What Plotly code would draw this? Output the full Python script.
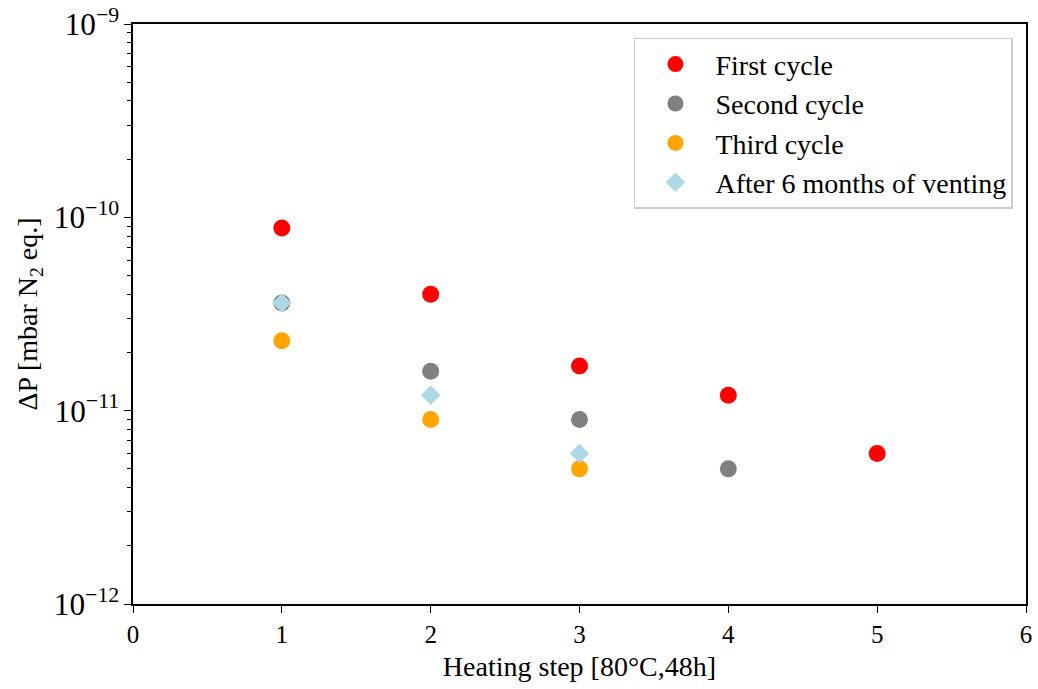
import plotly.graph_objects as go

steps_first = [1, 2, 3, 4, 5]
first_cycle = [8.8e-11, 4.0e-11, 1.7e-11, 1.2e-11, 6.0e-12]
steps_second = [1, 2, 3, 4]
second_cycle = [3.6e-11, 1.6e-11, 9.0e-12, 5.0e-12]
steps_third = [1, 2, 3]
third_cycle = [2.3e-11, 9.0e-12, 5.0e-12]
steps_after = [1, 2, 3]
after_venting = [3.6e-11, 1.2e-11, 6.0e-12]

FONT = "Liberation Serif"

fig = go.Figure()
fig.add_trace(go.Scatter(x=steps_first, y=first_cycle, mode="markers", name="First cycle",
                         legendgroup="a", marker=dict(color="red", size=17, symbol="circle")))
fig.add_trace(go.Scatter(x=steps_second, y=second_cycle, mode="markers", name="Second cycle",
                         legendgroup="b", marker=dict(color="grey", size=17, symbol="circle")))
fig.add_trace(go.Scatter(x=steps_third, y=third_cycle, mode="markers", name="Third cycle",
                         legendgroup="c", marker=dict(color="orange", size=17, symbol="circle")))
fig.add_trace(go.Scatter(x=steps_after, y=after_venting, mode="markers", name="After 6 months of venting",
                         legendgroup="d", marker=dict(color="lightblue", size=15, symbol="diamond")))

fig.update_layout(
    width=1038, height=689,
    margin=dict(l=133, r=12, t=24, b=85),
    plot_bgcolor="white", paper_bgcolor="white",
    font=dict(family=FONT, size=24, color="black"),
    showlegend=True,
    legend=dict(x=0.9854, y=0.976, xanchor="right", yanchor="top",
                bgcolor="white", bordercolor="#cccccc", borderwidth=1.5,
                font=dict(family=FONT, size=28), itemsizing="trace",
                tracegroupgap=0, itemwidth=70),
    xaxis=dict(range=[0, 6], dtick=1, tick0=0, showgrid=False, zeroline=False,
               showline=True, linecolor="black", linewidth=1.5, mirror=True,
               ticks="outside", ticklen=7, tickwidth=1.3, tickcolor="black",
               automargin=False,
               title=dict(text="Heating step [80°C,48h]", standoff=10, font=dict(size=28)),
               tickfont=dict(size=25)),
    yaxis=dict(type="log", range=[-12, -9], dtick=1, exponentformat="power",
               showgrid=False, zeroline=False, automargin=False,
               showline=True, linecolor="black", linewidth=1.5, mirror=True,
               ticks="outside", ticklen=7, tickwidth=1.3, tickcolor="black",
               minor=dict(ticks="outside", ticklen=4, tickwidth=1, tickcolor="black", dtick="D1", showgrid=False),
               title=dict(text="ΔP [mbar N<sub>2</sub> eq.]", standoff=8, font=dict(size=28)),
               tickfont=dict(size=25)),
)

fig.write_html("out.html")
